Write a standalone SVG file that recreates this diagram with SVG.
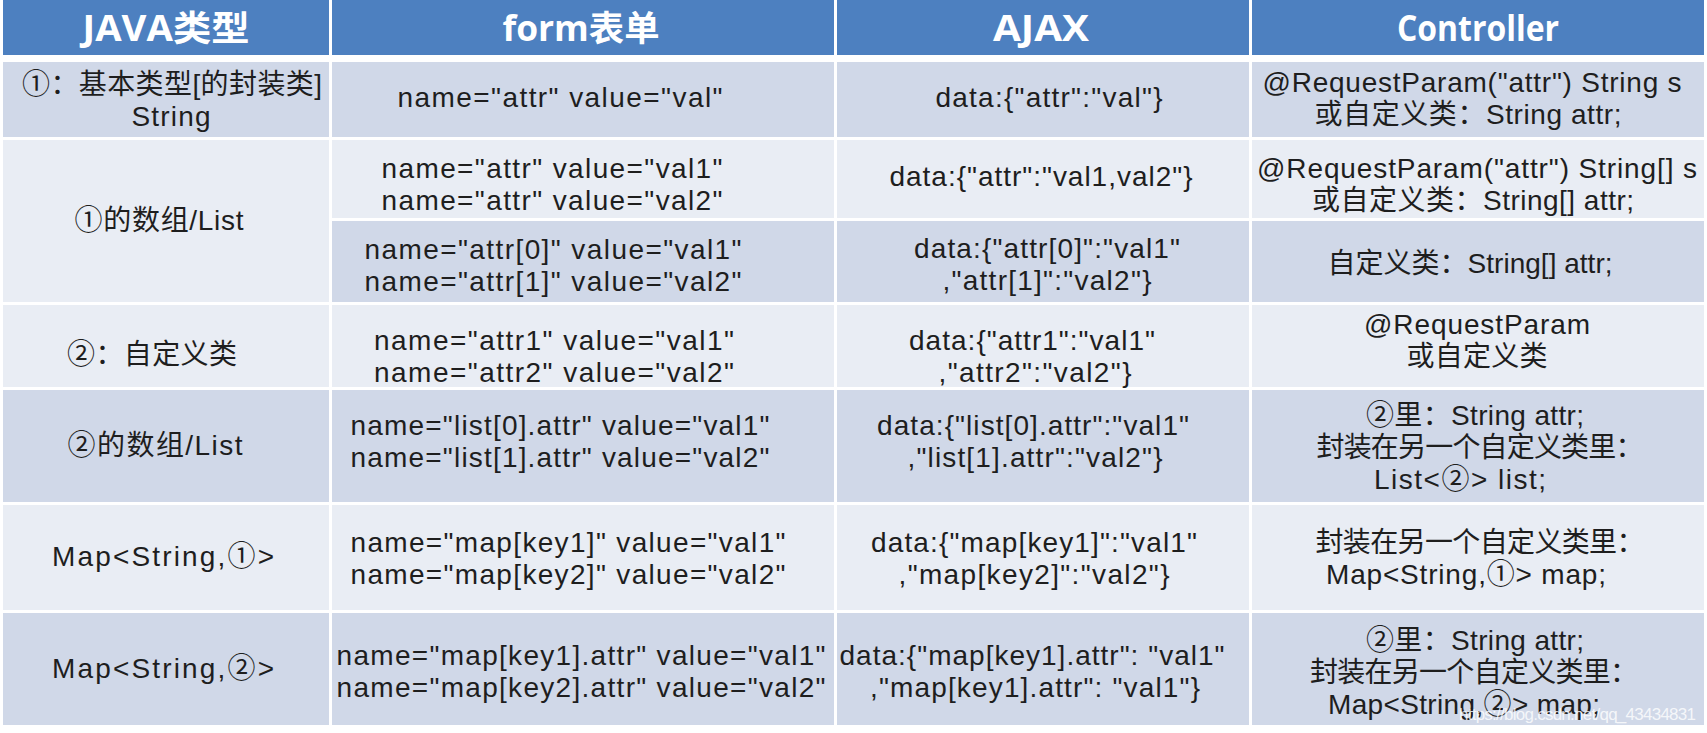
<svg xmlns="http://www.w3.org/2000/svg" width="1707" height="733" viewBox="0 0 1707 733">
<style>
.hd{fill:#4d80c0}
.dk{fill:#d0d8e8}
.lt{fill:#e9edf4}
.h{font-family:"Open Sans","Noto Sans CJK SC",sans-serif;font-weight:bold;font-size:35px;fill:#ffffff;text-anchor:middle}
.t{font-family:"Liberation Sans","Noto Sans CJK SC",sans-serif;font-size:28px;fill:#1e1e1e;text-anchor:middle}
.wm{font-family:"Liberation Sans",sans-serif;font-size:17px;fill:#ffffff;fill-opacity:0.8}
</style>
<rect x="0" y="0" width="1707" height="733" fill="#ffffff"/>
<g id="header">
<rect class="hd" x="3" y="0" width="326" height="55"/>
<rect class="hd" x="332" y="0" width="502" height="55"/>
<rect class="hd" x="837" y="0" width="412" height="55"/>
<rect class="hd" x="1252" y="0" width="452" height="55"/>
<text class="h" x="166" y="41" textLength="167" lengthAdjust="spacingAndGlyphs">JAVA类型</text>
<text class="h" x="581" y="41" textLength="157" lengthAdjust="spacingAndGlyphs">form表单</text>
<text class="h" x="1041" y="41" textLength="96" lengthAdjust="spacingAndGlyphs">AJAX</text>
<text class="h" x="1478" y="41" textLength="162" lengthAdjust="spacingAndGlyphs">Controller</text>
</g>
<g id="row1">
<rect class="dk" x="3" y="62" width="326" height="75"/>
<rect class="dk" x="332" y="62" width="502" height="75"/>
<rect class="dk" x="837" y="62" width="412" height="75"/>
<rect class="dk" x="1252" y="62" width="452" height="75"/>
<text class="t" x="172" y="94" textLength="300">①：基本类型[的封装类]</text>
<text class="t" x="171" y="126" textLength="79">String</text>
<text class="t" x="560" y="107" textLength="325">name="attr" value="val"</text>
<text class="t" x="1049" y="107" textLength="227">data:{"attr":"val"}</text>
<text class="t" x="1472" y="92" textLength="419">@RequestParam("attr") String s</text>
<text class="t" x="1468" y="124" textLength="307">或自定义类：String attr;</text>
</g>
<g id="row2">
<rect class="lt" x="3" y="140" width="326" height="162"/>
<rect class="lt" x="332" y="140" width="502" height="78"/>
<rect class="lt" x="837" y="140" width="412" height="78"/>
<rect class="lt" x="1252" y="140" width="452" height="78"/>
<rect class="dk" x="332" y="221" width="502" height="81"/>
<rect class="dk" x="837" y="221" width="412" height="81"/>
<rect class="dk" x="1252" y="221" width="452" height="81"/>
<text class="t" x="159" y="230" textLength="169">①的数组/List</text>
<text class="t" x="552" y="178" textLength="341">name="attr" value="val1"</text>
<text class="t" x="552" y="210" textLength="341">name="attr" value="val2"</text>
<text class="t" x="1041" y="186" textLength="303">data:{"attr":"val1,val2"}</text>
<text class="t" x="1477" y="178" textLength="440">@RequestParam("attr") String[] s</text>
<text class="t" x="1473" y="210" textLength="322">或自定义类：String[] attr;</text>
<text class="t" x="553" y="259" textLength="377">name="attr[0]" value="val1"</text>
<text class="t" x="553" y="291" textLength="377">name="attr[1]" value="val2"</text>
<text class="t" x="1047" y="258" textLength="266">data:{"attr[0]":"val1"</text>
<text class="t" x="1047" y="290" textLength="209">,"attr[1]":"val2"}</text>
<text class="t" x="1470" y="273" textLength="285">自定义类：String[] attr;</text>
</g>
<g id="row3">
<rect class="lt" x="3" y="305" width="326" height="82"/>
<rect class="lt" x="332" y="305" width="502" height="82"/>
<rect class="lt" x="837" y="305" width="412" height="82"/>
<rect class="lt" x="1252" y="305" width="452" height="82"/>
<text class="t" x="152" y="364" textLength="170">②：自定义类</text>
<text class="t" x="554" y="350" textLength="360">name="attr1" value="val1"</text>
<text class="t" x="554" y="382" textLength="360">name="attr2" value="val2"</text>
<text class="t" x="1032" y="350" textLength="246">data:{"attr1":"val1"</text>
<text class="t" x="1035" y="382" textLength="193">,"attr2":"val2"}</text>
<text class="t" x="1477" y="334" textLength="226">@RequestParam</text>
<text class="t" x="1477" y="366" textLength="141">或自定义类</text>
</g>
<g id="row4">
<rect class="dk" x="3" y="390" width="326" height="112"/>
<rect class="dk" x="332" y="390" width="502" height="112"/>
<rect class="dk" x="837" y="390" width="412" height="112"/>
<rect class="dk" x="1252" y="390" width="452" height="112"/>
<text class="t" x="155" y="455" textLength="175">②的数组/List</text>
<text class="t" x="560" y="435" textLength="419">name="list[0].attr" value="val1"</text>
<text class="t" x="560" y="467" textLength="419">name="list[1].attr" value="val2"</text>
<text class="t" x="1033" y="435" textLength="312">data:{"list[0].attr":"val1"</text>
<text class="t" x="1035" y="467" textLength="255">,"list[1].attr":"val2"}</text>
<text class="t" x="1475" y="425" textLength="218">②里：String attr;</text>
<text class="t" x="1480" y="457" textLength="327">封装在另一个自定义类里：</text>
<text class="t" x="1460" y="489" textLength="172">List&lt;②&gt; list;</text>
</g>
<g id="row5">
<rect class="lt" x="3" y="505" width="326" height="105"/>
<rect class="lt" x="332" y="505" width="502" height="105"/>
<rect class="lt" x="837" y="505" width="412" height="105"/>
<rect class="lt" x="1252" y="505" width="452" height="105"/>
<text class="t" x="163" y="566" textLength="222">Map&lt;String,①&gt;</text>
<text class="t" x="568" y="552" textLength="435">name="map[key1]" value="val1"</text>
<text class="t" x="568" y="584" textLength="435">name="map[key2]" value="val2"</text>
<text class="t" x="1034" y="552" textLength="326">data:{"map[key1]":"val1"</text>
<text class="t" x="1034" y="584" textLength="271">,"map[key2]":"val2"}</text>
<text class="t" x="1480" y="552" textLength="329">封装在另一个自定义类里：</text>
<text class="t" x="1466" y="584" textLength="280">Map&lt;String,①&gt; map;</text>
</g>
<g id="row6">
<rect class="dk" x="3" y="613" width="326" height="112"/>
<rect class="dk" x="332" y="613" width="502" height="112"/>
<rect class="dk" x="837" y="613" width="412" height="112"/>
<rect class="dk" x="1252" y="613" width="452" height="112"/>
<text class="t" x="163" y="678" textLength="222">Map&lt;String,②&gt;</text>
<text class="t" x="581" y="665" textLength="489">name="map[key1].attr" value="val1"</text>
<text class="t" x="581" y="697" textLength="489">name="map[key2].attr" value="val2"</text>
<text class="t" x="1032" y="665" textLength="385">data:{"map[key1].attr": "val1"</text>
<text class="t" x="1035" y="697" textLength="330">,"map[key1].attr": "val1"}</text>
<text class="t" x="1475" y="650" textLength="218">②里：String attr;</text>
<text class="t" x="1474" y="682" textLength="328">封装在另一个自定义类里：</text>
<text class="t" x="1464" y="714" textLength="272">Map&lt;String,②&gt; map;</text>
</g>
<g id="connectors"></g>
<text class="wm" x="1459" y="720" textLength="237">https://blog.csdn.net/qq_43434831</text>
</svg>
